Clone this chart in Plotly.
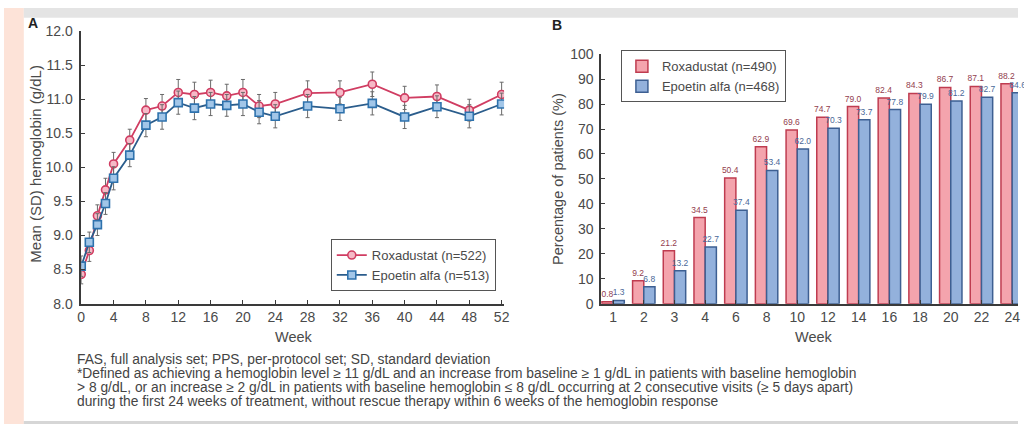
import plotly.graph_objects as go

# ---- Panel A: mean hemoglobin over time ----
weeks_a = [0, 1, 2, 3, 4, 6, 8, 10, 12, 14, 16, 18, 20, 22, 24, 28, 32, 36, 40, 44, 48, 52]
roxa_hb = [8.43, 8.78, 9.29, 9.67, 10.05, 10.40, 10.84, 10.90, 11.10, 11.07, 11.10, 11.05,
           11.10, 10.90, 10.93, 11.09, 11.10, 11.22, 11.02, 11.04, 10.84, 11.07]
roxa_sd = [0.14, 0.16, 0.16, 0.17, 0.17, 0.16, 0.17, 0.17, 0.19, 0.18, 0.18, 0.17,
           0.19, 0.17, 0.17, 0.18, 0.17, 0.18, 0.17, 0.17, 0.16, 0.18]
epo_hb = [8.55, 8.90, 9.16, 9.47, 9.84, 10.18, 10.62, 10.74, 10.95, 10.87, 10.93, 10.91,
          10.93, 10.81, 10.75, 10.90, 10.86, 10.94, 10.74, 10.89, 10.75, 10.93]
epo_sd = [0.15, 0.15, 0.16, 0.16, 0.17, 0.17, 0.17, 0.18, 0.17, 0.17, 0.17, 0.16,
          0.17, 0.17, 0.17, 0.17, 0.17, 0.17, 0.17, 0.16, 0.17, 0.16]

# ---- Panel B: cumulative responders ----
weeks_b = ["1", "2", "3", "4", "6", "8", "10", "12", "14", "16", "18", "20", "22", "24"]
roxa_pct = [0.8, 9.2, 21.2, 34.5, 50.4, 62.9, 69.6, 74.7, 79.0, 82.4, 84.3, 86.7, 87.1, 88.2]
epo_pct = [1.3, 6.8, 13.2, 22.7, 37.4, 53.4, 62.0, 70.3, 73.7, 77.8, 79.9, 81.2, 82.7, 84.6]

footnote_lines = [
    "FAS, full analysis set; PPS, per-protocol set; SD, standard deviation",
    "*Defined as achieving a hemoglobin level \u2265 11 g/dL and an increase from baseline \u2265 1 g/dL in patients with baseline hemoglobin",
    "> 8 g/dL, or an increase \u2265 2 g/dL in patients with baseline hemoglobin \u2264 8 g/dL occurring at 2 consecutive visits (\u2265 5 days apart)",
    "during the first 24 weeks of treatment, without rescue therapy within 6 weeks of the hemoglobin response",
]

W, H = 1024, 432
FONT = "Arial, Liberation Sans, sans-serif"
TXT = "#4a4a4a"
AX = "#3a3a3a"

RED_LINE = "#d03d62"
RED_FILL = "#f6b9c7"
BLUE_LINE = "#2b5d8c"
BLUE_MK = "#2e72ad"
BLUE_FILL = "#a2c6e8"

BAR_RED = "#f4a4ad"
BAR_RED_EDGE = "#bf3c50"
BAR_BLUE = "#93b1dc"
BAR_BLUE_EDGE = "#3d5f92"


def px_x(p):
    return p / W


def px_y(p):
    return 1 - p / H


fig = go.Figure()

fig.add_trace(go.Scatter(
    x=weeks_a, y=roxa_hb, name="Roxadustat (n=522)", mode="lines+markers",
    line=dict(color=RED_LINE, width=1.8),
    marker=dict(symbol="circle", size=8, color=RED_FILL, line=dict(color=RED_LINE, width=1.6)),
    error_y=dict(type="data", array=roxa_sd, color="#6a6a6a", thickness=1, width=2),
    xaxis="x", yaxis="y", legend="legend",
))
fig.add_trace(go.Scatter(
    x=weeks_a, y=epo_hb, name="Epoetin alfa (n=513)", mode="lines+markers",
    line=dict(color=BLUE_LINE, width=1.8),
    marker=dict(symbol="square", size=8, color=BLUE_FILL, line=dict(color=BLUE_MK, width=1.6)),
    error_y=dict(type="data", array=epo_sd, color="#6a6a6a", thickness=1, width=2),
    xaxis="x", yaxis="y", legend="legend",
))

fig.add_trace(go.Bar(
    x=weeks_b, y=roxa_pct, name="Roxadustat (n=490)",
    marker=dict(color=BAR_RED, line=dict(color=BAR_RED_EDGE, width=1.5)),
    text=[f"{v:.1f}" for v in roxa_pct], textposition="outside",
    textfont=dict(size=8.5, color="#93404e", family=FONT), constraintext="none",
    cliponaxis=False, xaxis="x2", yaxis="y2", legend="legend2",
))
fig.add_trace(go.Bar(
    x=weeks_b, y=epo_pct, name="Epoetin alfa (n=468)",
    marker=dict(color=BAR_BLUE, line=dict(color=BAR_BLUE_EDGE, width=1.5)),
    text=[f"{v:.1f}" for v in epo_pct], textposition="outside",
    textfont=dict(size=8.5, color="#4a6898", family=FONT), constraintext="none",
    cliponaxis=False, xaxis="x2", yaxis="y2", legend="legend2",
))

axis_common = dict(
    showline=True, linecolor=AX, linewidth=1.5, ticks="inside", ticklen=4,
    tickcolor=AX, tickwidth=1.2, showgrid=False, zeroline=False,
    tickfont=dict(size=14, color=TXT, family=FONT),
)

legend_common = dict(
    bgcolor="white", bordercolor="#555555", borderwidth=1,
    font=dict(size=13, color=TXT, family=FONT),
    xanchor="left", yanchor="top", tracegroupgap=0,
)

fig.update_layout(
    width=W, height=H,
    margin=dict(l=0, r=0, t=0, b=0),
    paper_bgcolor="white", plot_bgcolor="white",
    font=dict(family=FONT, color=TXT),
    barmode="group", bargap=0.27, bargroupgap=0.0,
    xaxis=dict(axis_common, domain=[px_x(78), px_x(505)], range=[0, 52.3],
               tickvals=list(range(0, 53, 4)), anchor="y"),
    yaxis=dict(axis_common, domain=[px_y(307), px_y(24)], range=[8, 12],
               tickvals=[8 + 0.5 * i for i in range(9)], tickformat=".1f",
               ticklabelstandoff=4, anchor="x"),
    xaxis2=dict(axis_common, domain=[px_x(603), 1.0], type="category",
                range=[-0.39, 13.19], anchor="y2"),
    yaxis2=dict(axis_common, domain=[px_y(307), px_y(48)], range=[0, 100],
                tickvals=list(range(0, 101, 10)), ticklabelstandoff=3, anchor="x2"),
    legend=dict(legend_common, x=px_x(330), y=px_y(240)),
    legend2=dict(legend_common, x=px_x(623), y=px_y(44)),
    showlegend=True,
)

# page bands around the figure
fig.add_shape(type="rect", xref="paper", yref="paper", x0=0, x1=px_x(20), y0=0, y1=1,
              fillcolor="#fde3d8", line_width=0, layer="below")
fig.add_shape(type="rect", xref="paper", yref="paper", x0=px_x(20), x1=1, y0=px_y(10), y1=1,
              fillcolor="#e4e4e4", line_width=0, layer="below")
fig.add_shape(type="rect", xref="paper", yref="paper", x0=px_x(20), x1=1, y0=0, y1=px_y(429),
              fillcolor="#d6d6d6", line_width=0, layer="below")

annotations = [
    dict(text="<b>A</b>", x=px_x(22), y=px_y(16), xanchor="left", yanchor="middle",
         font=dict(size=14, color="#222")),
    dict(text="<b>B</b>", x=px_x(551), y=px_y(18), xanchor="left", yanchor="middle",
         font=dict(size=14, color="#222")),
    dict(text="Mean (SD) hemoglobin (g/dL)", x=px_x(31), y=px_y(162), textangle=-90,
         xanchor="center", yanchor="middle", font=dict(size=15, color=TXT)),
    dict(text="Percentage of patients (%)", x=px_x(560), y=px_y(178), textangle=-90,
         xanchor="center", yanchor="middle", font=dict(size=14.5, color=TXT)),
    dict(text="Week", x=px_x(293), y=px_y(342), xanchor="center", yanchor="middle",
         font=dict(size=14.5, color=TXT)),
    dict(text="Week", x=px_x(818), y=px_y(342), xanchor="center", yanchor="middle",
         font=dict(size=14.5, color=TXT)),
]
for i, line in enumerate(footnote_lines):
    annotations.append(dict(
        text=line, x=px_x(72), y=px_y(365 + i * 14.6), xanchor="left", yanchor="middle",
        font=dict(size=13.8, color="#444"),
    ))
for a in annotations:
    a.update(xref="paper", yref="paper", showarrow=False)
fig.update_layout(annotations=annotations)

fig.write_html("out.html")
